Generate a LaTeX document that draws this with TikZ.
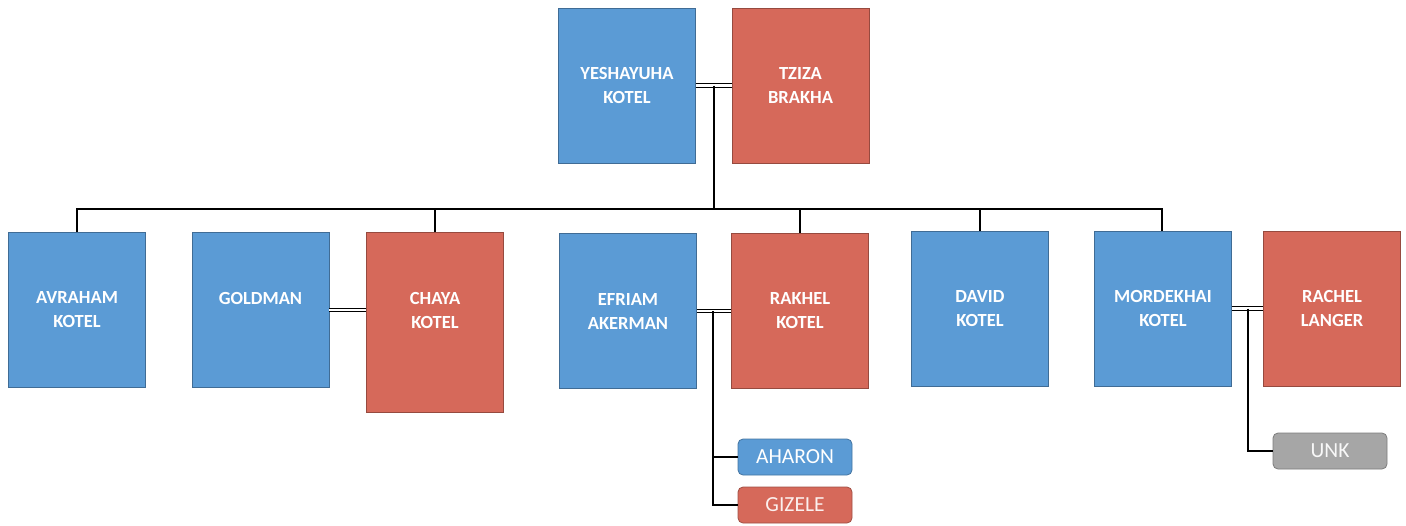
\documentclass[tikz,border=0pt]{standalone}
\usepackage{fontspec}
\setmainfont{Carlito}
\begin{document}
\begin{tikzpicture}[x=1pt,y=-1pt,
  person/.style={draw=#1!70!black, line width=0.8pt, fill=#1, text=white,
    font=\bfseries\fontsize{18.5}{24}\selectfont, align=center,
    minimum width=137pt, minimum height=155pt, inner sep=0pt},
  child/.style={draw=#1!75!black, line width=0.8pt, fill=#1, rounded corners=5pt,
    font=\fontsize{21.5}{24}\selectfont, align=center,
    minimum width=114pt, minimum height=36pt, inner sep=0pt},
  link/.style={draw=black, line width=1.8pt},
  wed/.style={draw=black, double=white, line width=1.1pt, double distance=2.2pt}
]
\definecolor{male}{HTML}{5B9BD5}
\definecolor{female}{HTML}{D6695A}
\definecolor{unknown}{HTML}{A6A6A6}
\useasboundingbox (0,0) rectangle (1406,525);

% parents
\node[person=male]   (yesh)  at (627,85.5)  {YESHAYUHA\\KOTEL};
\node[person=female] (tziza) at (800.5,85.5){TZIZA\\BRAKHA};

% second generation
\node[person=male]   (avraham)   at (77,310)   {AVRAHAM\\KOTEL};
\node[person=male]   (goldman)   at (260.5,310){GOLDMAN\\\mbox{}};
\node[person=female, minimum height=180pt] (chaya) at (435,322) {CHAYA\\KOTEL\\\mbox{}};
\node[person=male]   (efriam)    at (628,311)  {EFRIAM\\AKERMAN};
\node[person=female] (rakhel)    at (800,311)  {RAKHEL\\KOTEL};
\node[person=male]   (david)     at (980,308.5){DAVID\\KOTEL};
\node[person=male]   (mordekhai) at (1163,308.5){MORDEKHAI\\KOTEL};
\node[person=female] (rachel)    at (1332,308.5){RACHEL\\LANGER};

% third generation
\node[child=male, text=white]       (aharon) at (795,457) {AHARON};
\node[child=female, text=white!90!female] (gizele) at (795,505) {GIZELE};
\node[child=unknown, text=white!92!unknown] (unk) at (1330,451) {UNK};

% marriages
\draw[wed] (yesh.east) -- (tziza.west);
\draw[wed] (goldman.east) -- (chaya.west |- goldman.east);
\draw[wed] (efriam.east) -- (rakhel.west);
\draw[wed] (mordekhai.east) -- (rachel.west);

% sibling bus
\coordinate (busR) at (1162,209);
\coordinate (m1) at (714,85.5);
\draw[link] (avraham.north) |- (busR) -- (busR |- mordekhai.north);
\draw[link] (m1) -- (m1 |- busR);
\draw[link] (chaya.north) -- (chaya.north |- busR);
\draw[link] (rakhel.north) -- (rakhel.north |- busR);
\draw[link] (david.north) -- (david.north |- busR);

% children of Efriam and Rakhel
\coordinate (m2) at (713,311);
\draw[link] (m2) |- (gizele.west);
\draw[link] (m2 |- aharon.west) -- (aharon.west);

% child of Mordekhai and Rachel
\coordinate (m3) at (1248,308.5);
\draw[link] (m3) |- (unk.west);
\end{tikzpicture}
\end{document}
